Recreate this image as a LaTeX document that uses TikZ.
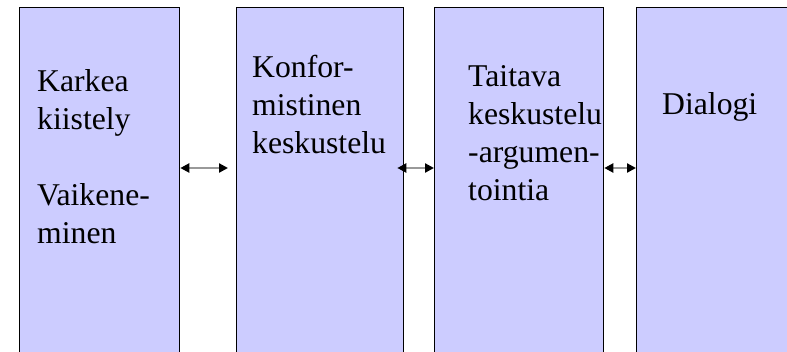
\documentclass[tikz,border=0pt]{standalone}
\usepackage{fontspec}
\setmainfont{Liberation Serif}
\usetikzlibrary{arrows.meta,positioning}
\definecolor{lavender}{HTML}{CCCCFF}
\definecolor{linkgray}{HTML}{999999}

\begin{document}
\begin{tikzpicture}[x=1pt,y=-1pt,
    stage/.style={draw=black, line width=1.3pt, fill=lavender, anchor=north west,
      inner sep=0pt, minimum height=400pt},
    label/.style={anchor=base west, inner sep=0pt, align=left,
      font=\fontsize{31.7}{38}\selectfont},
    link/.style={draw=linkgray, line width=2.2pt,
      {Triangle[color=black,length=9pt,width=9pt]}-{Triangle[color=black,length=9pt,width=9pt]}}]
  \useasboundingbox (0,0) rectangle (787,351);
  \clip (0,0) rectangle (787,351);
  % stages
  \node[stage, minimum width=160pt] (s1) at (19,7) {};
  \node[stage, minimum width=167pt] (s2) at (236,7) {};
  \node[stage, minimum width=169pt] (s3) at (434,7) {};
  \node[stage, minimum width=200pt] (s4) at (636,7) {};
  % texts (placed at the baseline of their last line)
  \node[label] (t1) at (37,243) {Karkea\\kiistely\\[38pt]Vaikene-\\minen};
  \node[label] (t2) at (252,153) {Konfor-\\mistinen\\keskustelu};
  \node[label] (t3) at (468,200) {Taitava\\keskustelu\\-argumen-\\tointia};
  \node[label] (t4) at (662,114) {Dialogi};
  % links
  \coordinate (level) at (0,168);
  \path[link] (s1.east |- level) -- ([xshift=-8pt]s2.west |- level);
  \path[link] ([xshift=-7pt]s2.east |- level) -- (s3.west |- level);
  \path[link] (s3.east |- level) -- (s4.west |- level);
\end{tikzpicture}
\end{document}
